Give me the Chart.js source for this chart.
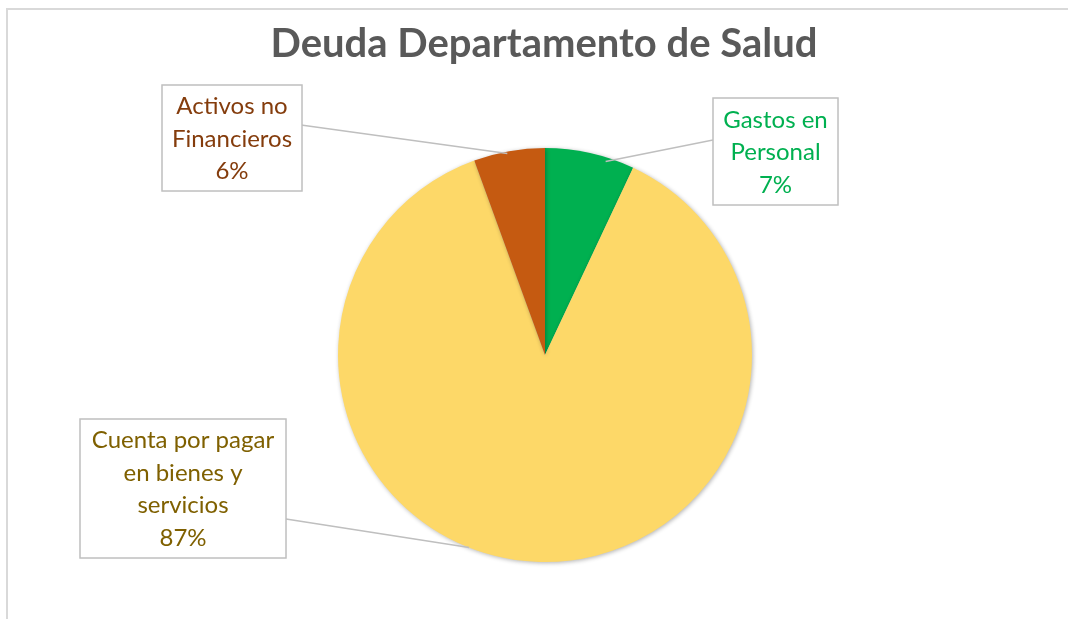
<!DOCTYPE html>
<html>
<head>
<meta charset="utf-8">
<script src="https://cdn.jsdelivr.net/npm/chart.js@4/dist/chart.umd.min.js"></script>
<style>
    html, body { margin: 0; padding: 0; background: #fff; overflow: hidden; }
    #frame {
        position: absolute; left: 6px; top: 8px; width: 1200px; height: 700px;
        border-left: 2px solid #d9d9d9; border-top: 2px solid #d9d9d9;
    }
    #wrap { position: absolute; left: 0; top: 0; width: 1068px; height: 619px; }
</style>
</head>
<body>
<div id="frame"></div>
<div id="wrap"><canvas id="graficoDeuda" width="1068" height="619"></canvas></div>
<script>
// Datos del gráfico
const titulo = 'Deuda Departamento de Salud';
const categorias = ['Gastos en Personal', 'Cuenta por pagar en bienes y servicios', 'Activos no Financieros'];
const valores = [7.0, 87.45, 5.55];
const colores = ['#00b050', '#fdd868', '#c55a11'];

// Etiquetas (líneas de texto de cada caja)
const etiquetas = [
    ['Gastos en', 'Personal', '7%'],
    ['Cuenta por pagar', 'en bienes y', 'servicios', '87%'],
    ['Activos no', 'Financieros', '6%']
];
const coloresTexto = ['#00b050', '#7f6000', '#843c0c'];

// Posición de las cajas de etiqueta y de la línea guía (solo diseño)
const cajas = [
    { x: 713, y: 98, w: 125, h: 107, ax: 713, ay: 140, frac: 0.69, rad: 0.98 },
    { x: 80, y: 419, w: 206, h: 139, ax: 286, ay: 519, frac: 0.56, rad: 1.0 },
    { x: 162, y: 85, w: 140, h: 106, ax: 301, ay: 125, frac: 0.47, rad: 0.99 }
];

const FONT = 'Lato, "Open Sans", sans-serif';

const etiquetasPlugin = {
    id: 'etiquetasCaja',
    beforeDatasetsDraw(chart) {
        const ctx = chart.ctx;
        ctx.save();
        ctx.shadowColor = 'rgba(0,0,0,0.3)';
        ctx.shadowBlur = 4;
        ctx.shadowOffsetX = 1;
        ctx.shadowOffsetY = 1;
    },
    afterDatasetsDraw(chart) {
        const ctx = chart.ctx;
        ctx.restore();

        // Título
        ctx.save();
        ctx.fillStyle = '#595959';
        ctx.font = 'bold 40px ' + FONT;
        ctx.textAlign = 'center';
        ctx.textBaseline = 'alphabetic';
        ctx.fillText(titulo, 544, 57);
        ctx.restore();

        const arcs = chart.getDatasetMeta(0).data;
        arcs.forEach((arc, i) => {
            const c = cajas[i];
            const ang = arc.startAngle + (arc.endAngle - arc.startAngle) * c.frac;
            const r = arc.outerRadius * c.rad;
            const ex = arc.x + Math.cos(ang) * r;
            const ey = arc.y + Math.sin(ang) * r;

            ctx.save();
            // Línea guía
            ctx.strokeStyle = '#bfbfbf';
            ctx.lineWidth = 1.5;
            ctx.beginPath();
            ctx.moveTo(c.ax, c.ay);
            ctx.lineTo(ex, ey);
            ctx.stroke();

            // Caja
            ctx.fillStyle = '#ffffff';
            ctx.fillRect(c.x, c.y, c.w, c.h);
            ctx.strokeStyle = '#bfbfbf';
            ctx.lineWidth = 1.5;
            ctx.strokeRect(c.x, c.y, c.w, c.h);

            // Texto
            const lineas = etiquetas[i];
            const lh = 32.5;
            const y0 = c.y + c.h / 2 - (lineas.length - 1) * lh / 2;
            ctx.fillStyle = coloresTexto[i];
            ctx.font = '24px ' + FONT;
            ctx.textAlign = 'center';
            ctx.textBaseline = 'middle';
            lineas.forEach((t, k) => ctx.fillText(t, c.x + c.w / 2, y0 + k * lh + 1));
            ctx.restore();
        });
    }
};

const ctx = document.getElementById('graficoDeuda').getContext('2d');
new Chart(ctx, {
    type: 'pie',
    data: {
        labels: categorias,
        datasets: [{
            data: valores,
            backgroundColor: colores,
            borderWidth: 0
        }]
    },
    options: {
        responsive: false,
        animation: false,
        layout: {
            padding: { top: 148, bottom: 57, left: 338, right: 316 }
        },
        plugins: {
            legend: { display: false },
            tooltip: { enabled: false },
            title: { display: false }
        }
    },
    plugins: [etiquetasPlugin]
});
</script>
</body>
</html>
